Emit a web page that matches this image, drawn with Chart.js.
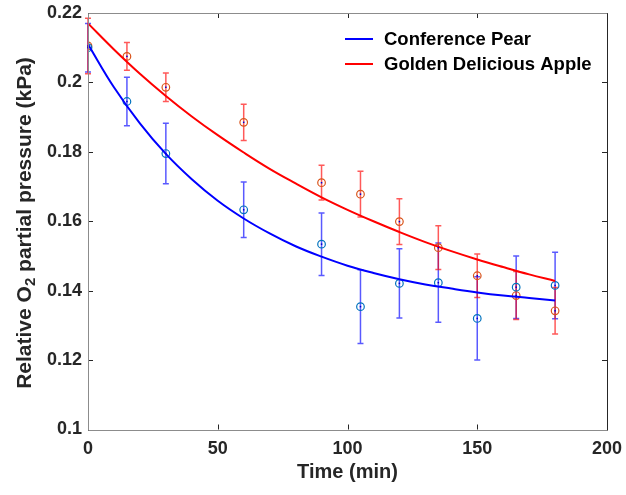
<!DOCTYPE html>
<html>
<head>
<meta charset="utf-8">
<script src="https://cdn.jsdelivr.net/npm/chart.js@4.4.1/dist/chart.umd.min.js"></script>
<style>
html,body{margin:0;padding:0;background:#fff;}
#wrap{width:626px;height:495px;}
</style>
</head>
<body>
<div id="wrap"><canvas id="c" width="626" height="495"></canvas></div>
<script>
// ---- data ----
const timePoints = [0, 15, 30, 60, 90, 105, 120, 135, 150, 165, 180];
const pearMean   = [0.2100, 0.1945, 0.1795, 0.1633, 0.1534, 0.1354, 0.1421, 0.1423, 0.1320, 0.1410, 0.1415];
const pearErr    = [0.0070, 0.0070, 0.0087, 0.0080, 0.0090, 0.0106, 0.0100, 0.0114, 0.0120, 0.0090, 0.0096];
const appleMean  = [0.2105, 0.2075, 0.1986, 0.1885, 0.1711, 0.1678, 0.1599, 0.1524, 0.1443, 0.1386, 0.1342];
const appleErr   = [0.0080, 0.0040, 0.0041, 0.0052, 0.0050, 0.0066, 0.0066, 0.0063, 0.0063, 0.0069, 0.0067];

const fitTimes = [0, 10, 20, 30, 40, 50, 60, 70, 80, 90, 100, 110, 120, 130, 140, 150, 160, 170, 180];
const pearFit  = [0.2110, 0.1986, 0.1882, 0.1794, 0.1721, 0.1659, 0.1608, 0.1565, 0.1528, 0.1498, 0.1472, 0.1451, 0.1433, 0.1418, 0.1406, 0.1395, 0.1386, 0.1379, 0.1372];
const appleFit = [0.2170, 0.2095, 0.2025, 0.1961, 0.1902, 0.1848, 0.1798, 0.1751, 0.1709, 0.1669, 0.1633, 0.1600, 0.1569, 0.1540, 0.1514, 0.1490, 0.1468, 0.1447, 0.1428];

const xTicks = [0, 50, 100, 150, 200];
const yTicks = [0.1, 0.12, 0.14, 0.16, 0.18, 0.2, 0.22];
const seriesNames = ['Conference Pear', 'Golden Delicious Apple'];

const FONT = "'Liberation Sans', Arial, sans-serif";
const TXT = '#262626';

const zip = (xs, ys) => xs.map((x, i) => ({x: x, y: ys[i]}));

const errorBars = {
  id: 'errorBars',
  beforeDatasetsDraw(chart) {
    const ctx = chart.ctx, xs = chart.scales.x, ys = chart.scales.y;
    const groups = [
      {m: pearMean, e: pearErr, c: 'rgba(0,0,255,0.65)'},
      {m: appleMean, e: appleErr, c: 'rgba(255,0,0,0.65)'}
    ];
    ctx.save();
    ctx.lineWidth = 1.5;
    groups.forEach(g => {
      ctx.strokeStyle = g.c;
      timePoints.forEach((t, i) => {
        const px = xs.getPixelForValue(t);
        const top = ys.getPixelForValue(g.m[i] + g.e[i]);
        const bot = ys.getPixelForValue(g.m[i] - g.e[i]);
        ctx.beginPath();
        ctx.moveTo(px, top); ctx.lineTo(px, bot);
        ctx.moveTo(px - 3, top); ctx.lineTo(px + 3, top);
        ctx.moveTo(px - 3, bot); ctx.lineTo(px + 3, bot);
        ctx.stroke();
      });
    });
    ctx.restore();
  },
  afterDatasetsDraw(chart) {
    const ctx = chart.ctx, xs = chart.scales.x, ys = chart.scales.y;
    ctx.save();
    ctx.fillStyle = '#0000cc';
    [pearMean, appleMean].forEach(m => {
      timePoints.forEach((t, i) => {
        ctx.fillRect(xs.getPixelForValue(t) - 0.75, ys.getPixelForValue(m[i]) - 0.75, 1.5, 1.5);
      });
    });
    ctx.restore();
  }
};

const frame = {
  id: 'frame',
  afterDraw(chart) {
    const ctx = chart.ctx, a = chart.chartArea, xs = chart.scales.x, ys = chart.scales.y;
    ctx.save();
    ctx.lineWidth = 1;
    // ticks
    ctx.strokeStyle = '#262626';
    ctx.beginPath();
    xTicks.forEach(t => {
      const px = Math.round(xs.getPixelForValue(t)) + 0.5;
      ctx.moveTo(px, a.bottom); ctx.lineTo(px, a.bottom - 5);
      ctx.moveTo(px, a.top); ctx.lineTo(px, a.top + 5);
    });
    yTicks.forEach(t => {
      const py = Math.round(ys.getPixelForValue(t)) + 0.5;
      ctx.moveTo(a.left, py); ctx.lineTo(a.left + 5, py);
      ctx.moveTo(a.right, py); ctx.lineTo(a.right - 5, py);
    });
    ctx.stroke();
    // frame
    const L = Math.round(a.left) + 0.5, R = Math.round(a.right) + 0.5, T = Math.round(a.top) + 0.5, B = Math.round(a.bottom) + 0.5;
    ctx.strokeStyle = '#8c8c8c';
    ctx.beginPath();
    ctx.moveTo(L, T); ctx.lineTo(R, T);
    ctx.moveTo(L, T); ctx.lineTo(L, B); ctx.lineTo(R, B);
    ctx.stroke();
    ctx.strokeStyle = '#262626';
    ctx.beginPath();
    ctx.moveTo(R, T); ctx.lineTo(R, B);
    ctx.stroke();

    // axis titles
    ctx.fillStyle = TXT;
    ctx.font = 'bold 20px ' + FONT;
    ctx.textAlign = 'center';
    ctx.textBaseline = 'middle';
    ctx.fillText('Time (min)', (a.left + a.right) / 2, 472);

    // y title with subscript
    const parts = [
      {t: 'Relative O', f: 'bold 21px ' + FONT, dy: 0},
      {t: '2', f: 'bold 15px ' + FONT, dy: 6},
      {t: ' partial pressure (kPa)', f: 'bold 21px ' + FONT, dy: 0}
    ];
    let total = 0;
    parts.forEach(p => { ctx.font = p.f; p.w = ctx.measureText(p.t).width; total += p.w; });
    ctx.translate(25, 223);
    ctx.rotate(-Math.PI / 2);
    ctx.textAlign = 'left';
    let x = -total / 2;
    parts.forEach(p => { ctx.font = p.f; ctx.fillText(p.t, x, p.dy); x += p.w; });
    ctx.restore();

    // legend
    ctx.save();
    const items = [{c: '#0000ff', y: 39}, {c: '#ff0000', y: 64}];
    items.forEach((it, i) => {
      ctx.strokeStyle = it.c;
      ctx.lineWidth = 2;
      ctx.beginPath(); ctx.moveTo(345, it.y); ctx.lineTo(373, it.y); ctx.stroke();
      ctx.fillStyle = '#000';
      ctx.font = 'bold 18.5px ' + FONT;
      ctx.textAlign = 'left';
      ctx.textBaseline = 'middle';
      ctx.fillText(seriesNames[i], 384, it.y + 1);
    });
    ctx.restore();
  }
};

new Chart(document.getElementById('c'), {
  type: 'scatter',
  data: {
    datasets: [
      {label: seriesNames[0] + ' fit', data: zip(fitTimes, pearFit), showLine: true, borderColor: '#0000ff', borderWidth: 2, pointRadius: 0, tension: 0.4, order: 0},
      {label: seriesNames[1] + ' fit', data: zip(fitTimes, appleFit), showLine: true, borderColor: '#ff0000', borderWidth: 2, pointRadius: 0, tension: 0.4, order: 0},
      {label: seriesNames[0], data: zip(timePoints, pearMean), pointStyle: 'circle', pointRadius: 3.8, pointBorderWidth: 1.2, pointBorderColor: '#0072BD', pointBackgroundColor: 'rgba(0,0,0,0)', order: 1},
      {label: seriesNames[1], data: zip(timePoints, appleMean), pointStyle: 'circle', pointRadius: 3.8, pointBorderWidth: 1.2, pointBorderColor: '#D95319', pointBackgroundColor: 'rgba(0,0,0,0)', order: 1}
    ]
  },
  options: {
    responsive: false,
    animation: false,
    layout: {padding: {left: 0, top: 13, right: 19, bottom: 0}},
    plugins: {legend: {display: false}, tooltip: {enabled: false}},
    scales: {
      x: {
        type: 'linear', min: 0, max: 200,
        afterBuildTicks: s => { s.ticks = xTicks.map(v => ({value: v})); },
        afterFit: s => { s.height = 65.5; s.paddingLeft = 0; s.paddingRight = 0; },
        grid: {display: false, drawTicks: false, tickLength: 0}, border: {display: false},
        ticks: {padding: 9, color: TXT, font: {family: FONT, size: 18, weight: 'bold'}, maxRotation: 0, autoSkip: false}
      },
      y: {
        type: 'linear', min: 0.1, max: 0.22,
        afterBuildTicks: s => { s.ticks = yTicks.map(v => ({value: v})); },
        afterFit: s => { s.width = 88; s.paddingTop = 0; s.paddingBottom = 0; },
        grid: {display: false, drawTicks: false, tickLength: 0}, border: {display: false},
        ticks: {padding: 6, color: TXT, font: {family: FONT, size: 18, weight: 'bold'}, autoSkip: false,
          callback: v => String(Number(v.toFixed(2)))}
      }
    }
  },
  plugins: [errorBars, frame]
});
</script>
</body>
</html>
